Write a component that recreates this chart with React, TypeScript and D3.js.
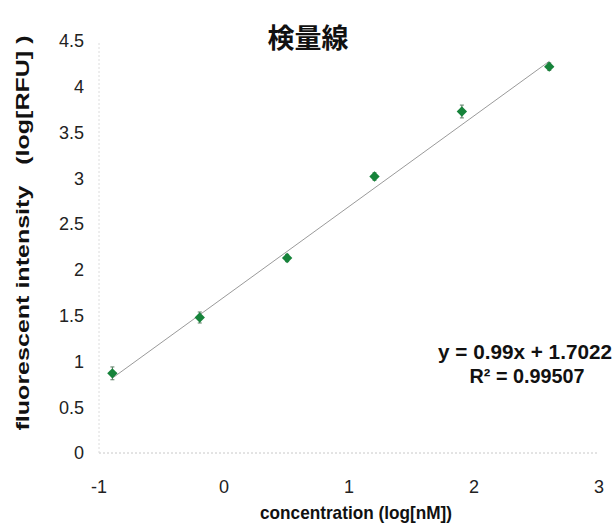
import React from "react";
import * as d3 from "d3";

// log10 of the concentrations (5-fold dilution)
const concLog = [-0.893, -0.194, 0.505, 1.204, 1.903, 2.602];
const intensityLog = [0.87, 1.48, 2.13, 3.02, 3.73, 4.22];
const errors = [0.07, 0.06, 0.04, 0.04, 0.07, 0.04];

const xTicks = [-1, 0, 1, 2, 3];
const yTicks = [0, 0.5, 1, 1.5, 2, 2.5, 3, 3.5, 4, 4.5];

const slope = 0.99;
const intercept = 1.7022;
const eqText = "y = 0.99x + 1.7022";
const r2Text = "R² = 0.99507";

const W = 614;
const H = 523;
const margin = { top: 41, right: 15, bottom: 70, left: 99 };

const App = () => {
  const x = d3
    .scaleLinear()
    .domain([-1, 3])
    .range([margin.left, W - margin.right]);
  const y = d3
    .scaleLinear()
    .domain([0, 4.5])
    .range([H - margin.bottom, margin.top]);

  const font = "'Liberation Sans', Arial, sans-serif";
  const green = "#16833a";

  const fitX = d3.extent(concLog) as [number, number];
  const fitLine = d3
    .line<number>()
    .x((d) => x(d))
    .y((d) => y(slope * d + intercept));

  const diamond = d3.symbol(d3.symbolDiamond2, 68)();

  return (
    <svg
      width={W}
      height={H}
      style={{ position: "absolute", left: 0, top: 0, background: "#fff" }}
      fontFamily={font}
    >
      {/* axes, faint dotted like the scan */}
      <line
        x1={x(-1)}
        x2={x(3)}
        y1={y(0)}
        y2={y(0)}
        stroke="#c8c8c8"
        strokeDasharray="2,2"
      />
      <line
        x1={x(-1)}
        x2={x(-1)}
        y1={y(0)}
        y2={y(4.5)}
        stroke="#dcdcdc"
        strokeDasharray="2,2"
      />

      {yTicks.map((t) => (
        <text
          key={"y" + t}
          x={84}
          y={y(t)}
          dy="0.35em"
          textAnchor="end"
          fontSize={18}
          fill="#222"
        >
          {t}
        </text>
      ))}
      {xTicks.map((t) => (
        <text
          key={"x" + t}
          x={x(t)}
          y={487}
          dy="0.35em"
          textAnchor="middle"
          fontSize={18}
          fill="#222"
        >
          {t}
        </text>
      ))}

      {/* trendline */}
      <path d={fitLine(fitX) || ""} fill="none" stroke="#9a9a9a" strokeWidth={1} />

      {/* error bars + markers */}
      {concLog.map((c, i) => {
        const cx = x(c);
        const top = y(intensityLog[i] + errors[i]);
        const bot = y(intensityLog[i] - errors[i]);
        return (
          <g key={i}>
            <line x1={cx} x2={cx} y1={top} y2={bot} stroke="#5a7a62" strokeWidth={1} />
            <line x1={cx - 2} x2={cx + 2} y1={top} y2={top} stroke="#5a7a62" />
            <line x1={cx - 2} x2={cx + 2} y1={bot} y2={bot} stroke="#5a7a62" />
            <path
              d={diamond || ""}
              transform={`translate(${cx},${y(intensityLog[i])})`}
              fill={green}
            />
          </g>
        );
      })}

      {/* title */}
      <text
        x={308}
        y={39}
        dy="0.35em"
        textAnchor="middle"
        fontSize={27}
        fontWeight="bold"
        fontFamily="'Noto Sans CJK JP', sans-serif"
        fill="#111"
      >
        検量線
      </text>

      {/* axis titles */}
      <text
        x={356}
        y={512}
        dy="0.35em"
        textAnchor="middle"
        fontSize={19}
        fontWeight="bold"
        fill="#111"
        textLength={192}
        lengthAdjust="spacingAndGlyphs"
      >
        concentration (log[nM])
      </text>
      <text
        transform={`translate(22,233) rotate(-90)`}
        dy="0.35em"
        textAnchor="middle"
        fontSize={19}
        fontWeight="bold"
        fill="#111"
        textLength={395}
        lengthAdjust="spacingAndGlyphs"
        style={{ whiteSpace: "pre" }}
      >
        {"fluorescent intensity   (log[RFU] )"}
      </text>

      {/* equation */}
      <text
        x={525}
        y={352}
        dy="0.35em"
        textAnchor="middle"
        fontSize={20}
        fontWeight="bold"
        fill="#111"
        textLength={174}
        lengthAdjust="spacingAndGlyphs"
      >
        {eqText}
      </text>
      <text
        x={527}
        y={376}
        dy="0.35em"
        textAnchor="middle"
        fontSize={20}
        fontWeight="bold"
        fill="#111"
        textLength={115}
        lengthAdjust="spacingAndGlyphs"
      >
        {r2Text}
      </text>
    </svg>
  );
};

export default App;
